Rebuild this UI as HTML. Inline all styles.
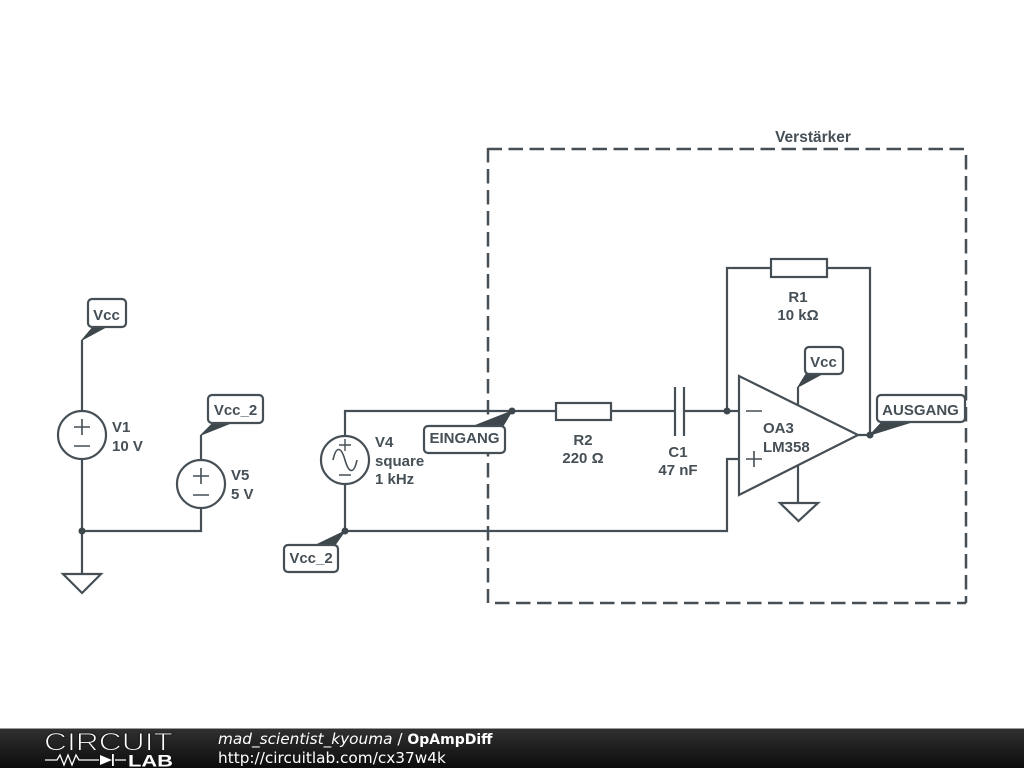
<!DOCTYPE html>
<html><head><meta charset="utf-8"><style>
html,body{margin:0;padding:0;background:#fff;width:1024px;height:768px;overflow:hidden}
svg{display:block}
.l{font:bold 15px "Liberation Sans",sans-serif;fill:#454f55}
.m{text-anchor:middle}
.w{fill:none;stroke:#454f55;stroke-width:2.200}
.d{fill:none;stroke:#454f55;stroke-width:2.500;stroke-dasharray:14.500 6.500}
.t{fill:#3d474c;stroke:#3d474c;stroke-width:1;stroke-linejoin:round}
.b{fill:#fff;stroke:#454f55;stroke-width:2.200}
.f{font-family:"DejaVu Sans",sans-serif;font-size:15.300px;fill:#fff}
</style></head><body>
<svg width="1024" height="768" viewBox="0 0 1024 768" xmlns="http://www.w3.org/2000/svg">
<defs><linearGradient id="g" x1="0" y1="0" x2="0" y2="1"><stop offset="0" stop-color="#303030"/><stop offset="1" stop-color="#0c0c0c"/></linearGradient></defs>
<rect width="1024" height="768" fill="#fff"/>

<path class="d" d="M487.500 149H966"/>
<path class="d" d="M966 155V603"/>
<path class="d" d="M488 148V603"/>
<path class="d" d="M495 603H966"/>
<text class="l m" x="813" y="142" style="font-size:15.500px">Verstärker</text>

<!-- wires -->
<path class="w" d="M82 340V411M82 459V574M82 531H201V508M201 460V435"/>
<path class="w" d="M345 436V411H556M611 411H675M684 411H739M345 484V531H727V459H739"/>
<path class="w" d="M727 411V268H771M827 268H870V435M858 435H870M798 387V405M798 465V503"/>

<!-- sources -->
<circle class="w" cx="82" cy="435" r="24"/>
<path class="w" d="M74 427H90M82 419V435M74 446H90" style="stroke-width:1.6"/>
<text class="l" x="112" y="432">V1</text><text class="l" x="112" y="451">10 V</text>
<circle class="w" cx="201" cy="484" r="24"/>
<path class="w" d="M193 476H209M201 468V484M193 495H209" style="stroke-width:1.6"/>
<text class="l" x="231" y="480">V5</text><text class="l" x="231" y="499">5 V</text>
<circle class="w" cx="345" cy="460" r="24"/>
<path class="w" d="M339 445H351M345 439V451M339 475H351" style="stroke-width:1.4"/>
<path class="w" d="M333 460C336 446 341 446 345 460S354 474 357 460" style="stroke-width:1.6"/>
<text class="l" x="375" y="447">V4</text><text class="l" x="375" y="466">square</text><text class="l" x="375" y="484">1 kHz</text>

<!-- grounds -->
<path class="w" d="M63 574H101L82 593Z"/>
<path class="w" d="M780 503H818L798.500 521Z"/>

<!-- R / C -->
<rect class="w" x="556" y="403" width="55" height="17"/>
<text class="l m" x="583" y="445">R2</text><text class="l m" x="583" y="463">220 Ω</text>
<path class="w" d="M675 387V436M684 387V436"/>
<text class="l m" x="678" y="457">C1</text><text class="l m" x="678" y="475">47 nF</text>
<rect class="w" x="771" y="259" width="56" height="18"/>
<text class="l m" x="798" y="302">R1</text><text class="l m" x="798" y="320">10 kΩ</text>

<!-- opamp -->
<path class="w" d="M739 376V495L858 435Z"/>
<path class="w" d="M746 411H762M746 459H762M754 451V467" style="stroke-width:1.6"/>
<text class="l" x="763" y="433">OA3</text><text class="l" x="763" y="452">LM358</text>

<!-- flags -->
<path class="t" d="M82 340L93 327H106Z"/>
<rect class="b" x="88" y="299" width="38" height="28" rx="4"/>
<text class="l m" x="106.500" y="320">Vcc</text>

<path class="t" d="M201 435L213 423H231Z"/>
<rect class="b" x="208" y="395" width="55" height="28" rx="4"/>
<text class="l m" x="235.500" y="415">Vcc_2</text>

<path class="t" d="M512 411L474 426H503Z"/>
<rect class="b" x="424" y="426" width="81" height="27" rx="4"/>
<text class="l m" x="464.500" y="443">EINGANG</text>

<path class="t" d="M345 531L316 545H335Z"/>
<rect class="b" x="284" y="545" width="54" height="27" rx="4"/>
<text class="l m" x="311" y="563">Vcc_2</text>

<path class="t" d="M798 387L806 374H822Z"/>
<rect class="b" x="805" y="347" width="38" height="27" rx="4"/>
<text class="l m" x="823.500" y="367">Vcc</text>

<path class="t" d="M870 435L882 422H912Z"/>
<rect class="b" x="877" y="395" width="88" height="27" rx="4"/>
<text class="l m" x="920.500" y="415">AUSGANG</text>

<!-- junctions -->
<g fill="#3d474c"><circle cx="82" cy="531" r="3.500"/><circle cx="345" cy="531" r="3.500"/><circle cx="512" cy="411" r="3.500"/><circle cx="727" cy="411" r="3.500"/><circle cx="870" cy="435" r="3.500"/></g>

<!-- footer -->
<rect x="0" y="729" width="1024" height="39" fill="url(#g)"/>
<rect x="0" y="728" width="1024" height="1" fill="#9a9a9a"/>
<text x="44" y="750.500" font-family="Liberation Sans,sans-serif" font-size="25" textLength="129" lengthAdjust="spacingAndGlyphs" fill="#fff" stroke="#1d1d1d" stroke-width="1">CIRCUIT</text>
<path d="M45 760H57L60 755L64 765L68 755L72 765L76 755L79 760H99M115 760H126" fill="none" stroke="#fff" stroke-width="1.300"/>
<path d="M100 755V765L112 760Z" fill="#fff"/><rect x="112" y="754" width="1.800" height="12" fill="#fff"/>
<text x="128" y="766.500" font-family="Liberation Sans,sans-serif" font-size="17" font-weight="bold" textLength="45" lengthAdjust="spacingAndGlyphs" fill="#fff">LAB</text>
<text class="f" x="218" y="744"><tspan font-style="italic">mad_scientist_kyouma</tspan> / <tspan font-weight="bold" style="font-size:14px">OpAmpDiff</tspan></text>
<text class="f" x="218" y="763">http://circuitlab.com/cx37w4k</text>
</svg>
</body></html>
